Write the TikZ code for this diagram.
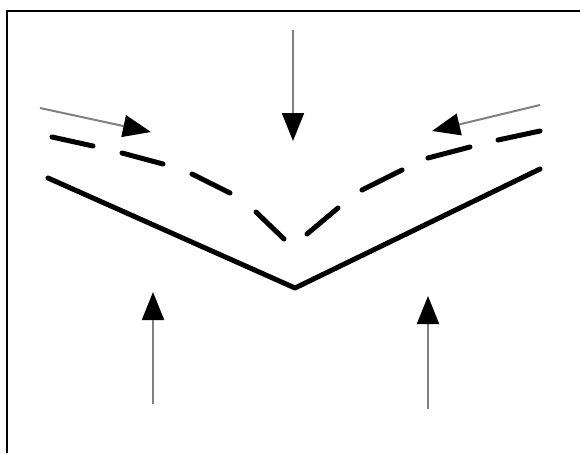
\documentclass[tikz,border=0pt]{standalone}
\usetikzlibrary{arrows.meta}
\tikzset{
  flow/.style={draw=black!50, line width=2pt, -{Triangle[length=28pt,width=22pt,color=black]}},
  surface/.style={line width=5pt, line cap=round, line join=round},
  dashseg/.style={line width=5pt, line cap=round},
  frameline/.style={line width=2pt}
}
\begin{document}
\begin{tikzpicture}[x=1pt,y=-1pt]
\useasboundingbox (0,0) rectangle (580,453);
% frame (top and left only)
\draw[frameline] (7,453) -- (7,11) -- (580,11);
% solid V
\coordinate (sl) at (48,178);
\coordinate (sv) at (295,288);
\coordinate (sr) at (540,169);
\draw[surface] (sl) -- (sv) -- (sr);
% dashed V (curved)
\draw[dashseg] (52,137) -- (93,146);
\draw[dashseg] (122,153) -- (163,164);
\draw[dashseg] (192,174) -- (230,193);
\draw[dashseg] (256,212) -- (284,239);
\draw[dashseg] (498,140) -- (540,131);
\draw[dashseg] (428,158) -- (470,147);
\draw[dashseg] (362,190) -- (402,170);
\draw[dashseg] (307,234) -- (338,208);
% arrows
\coordinate (tA) at (293,30);  \coordinate (hA) at (293,141);
\coordinate (tB) at (40,108);  \coordinate (hB) at (151,132);
\coordinate (tC) at (540,105); \coordinate (hC) at (432,131);
\coordinate (tD) at (153,404); \coordinate (hD) at (153,292);
\coordinate (tE) at (428,409); \coordinate (hE) at (428,296);
\draw[flow] (tA) -- (hA);
\draw[flow] (tB) -- (hB);
\draw[flow] (tC) -- (hC);
\draw[flow] (tD) -- (hD);
\draw[flow] (tE) -- (hE);
\end{tikzpicture}
\end{document}
